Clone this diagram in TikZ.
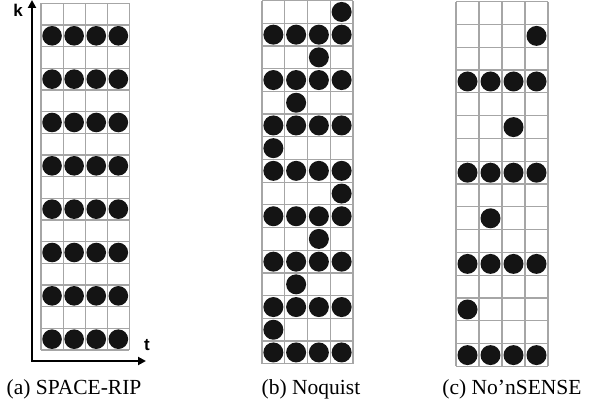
\documentclass[tikz,border=0pt]{standalone}
\usepackage{fontspec}
\setmainfont{Liberation Serif}
\setsansfont{Liberation Sans}
\usetikzlibrary{arrows.meta}

\begin{document}
\begin{tikzpicture}[x=1pt, y=-1pt,
        cellgrid/.style={draw=gray!70, line width=1.2pt},
        dot/.style={fill=black!92},
        axis/.style={line width=2.4pt, {Triangle[length=8pt, width=8pt]}-{Triangle[length=8pt, width=8pt]}},
        axlabel/.style={font=\sffamily\bfseries\fontsize{17}{17}\selectfont, inner sep=0pt},
        caption/.style={font=\fontsize{21.5}{24}\selectfont, anchor=base, inner sep=0pt}
    ]
    \useasboundingbox (0,0) rectangle (595,406);

    % (a) every second row
    \begin{scope}[shift={(41,3.3)}, x=22.1pt, y=-21.67pt]
        \foreach \r in {0,...,16} \draw[cellgrid] (0,\r) -- (4,\r);
        \foreach \c in {0,...,4} \draw[cellgrid] (\c,0) -- (\c,16);
        \foreach \r in {2,4,...,16}
            \foreach \c in {1,...,4}
                \fill[dot] (\c-0.5,\r-0.5) circle[radius=9.8pt];
    \end{scope}

    % (b) full rows plus one shifting sample
    \begin{scope}[shift={(262,0.6)}, x=22.75pt, y=-22.7pt]
        \foreach \r in {0,...,16} \draw[cellgrid] (0,\r) -- (4,\r);
        \foreach \c in {0,...,4} \draw[cellgrid] (\c,0) -- (\c,16);
        \foreach \r in {2,4,...,16}
            \foreach \c in {1,...,4}
                \fill[dot] (\c-0.5,\r-0.5) circle[radius=10pt];
        \foreach \r/\c in {1/4,3/3,5/2,7/1,9/4,11/3,13/2,15/1}
            \fill[dot] (\c-0.5,\r-0.5) circle[radius=10pt];
    \end{scope}

    % (c)
    \begin{scope}[shift={(456,1.7)}, x=23pt, y=-22.8pt]
        \foreach \r in {0,...,16} \draw[cellgrid] (0,\r) -- (4,\r);
        \foreach \c in {0,...,4} \draw[cellgrid] (\c,0) -- (\c,16);
        \foreach \r in {4,8,12,16}
            \foreach \c in {1,...,4}
                \fill[dot] (\c-0.5,\r-0.5) circle[radius=10pt];
        \foreach \r/\c in {2/4,6/3,10/2,14/1}
            \fill[dot] (\c-0.5,\r-0.5) circle[radius=10pt];
    \end{scope}

    % axes
    \coordinate (kend) at (32,0);
    \coordinate (tend) at (146,361);
    \draw[axis] (kend) |- (tend);
    \node[axlabel] (klabel) at (18,10) {k};
    \node[axlabel] (tlabel) at (147,345) {t};

    \node[caption] (capa) at (74,394) {(a) SPACE-RIP};
    \node[caption] (capb) at (311,394) {(b) Noquist};
    \node[caption] (capc) at (512,394) {(c) No’nSENSE};
\end{tikzpicture}
\end{document}
